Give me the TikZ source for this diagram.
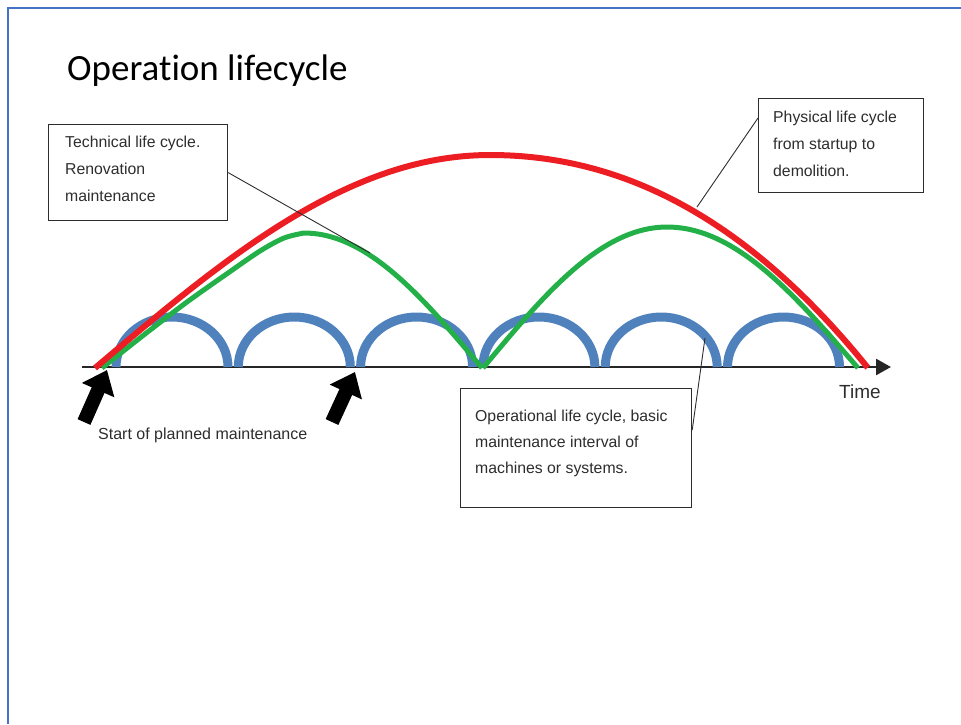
\documentclass[tikz,border=0pt]{standalone}
\usepackage{fontspec}
\setmainfont{Liberation Sans}
\newfontfamily\titlefont[Ligatures=NoCommon]{Carlito}
\usetikzlibrary{arrows.meta,calc}

\definecolor{framecol}{RGB}{68,114,196}
\definecolor{lifered}{RGB}{236,30,36}
\definecolor{lifegreen}{RGB}{36,176,72}
\definecolor{lifeblue}{RGB}{79,129,189}
\definecolor{inkgray}{RGB}{45,45,45}

\begin{document}
\begin{tikzpicture}[x=1pt,y=-1pt,
  frameline/.style={draw=framecol, line width=2.5pt},
  box/.style={draw=inkgray, line width=1.2pt, inner sep=0pt, anchor=north west},
  boxtext/.style={anchor=base west, inner sep=0pt, text=inkgray,
                  font=\fontsize{15.8}{27}\selectfont},
  leader/.style={draw=inkgray, line width=0.9pt},
  physcurve/.style={draw=lifered, line width=6pt},
  techcurve/.style={draw=lifegreen, line width=5pt},
  opcurve/.style={draw=lifeblue, line width=9pt},
  timeaxis/.style={draw=black!85, line width=2.6pt,
                   -{Triangle[length=15pt,width=16pt]}},
  startarrow/.style={draw=black, line width=14pt,
                     -{Triangle[length=22pt,width=34pt]}},
]
\useasboundingbox (0,0) rectangle (961,724);

% page frame (top and left edges)
\draw[frameline] (961,8) -- (8,8) -- (8,724);

% title
\node[anchor=base west, inner sep=0pt, font=\titlefont\fontsize{37}{44}\selectfont]
  (title) at (67,80) {Operation lifecycle};

% time axis
\coordinate (axisL) at (82,367);
\coordinate (axisR) at (891,367);
\draw[timeaxis] (axisL) -- (axisR);
\node[anchor=base west, inner sep=0pt, text=inkgray, font=\fontsize{19}{22}\selectfont]
  (time) at (839,398) {Time};

% operational life cycles (blue)
\foreach \k in {0,...,5}{
  \draw[opcurve] ({116+122.3*\k},367) arc[start angle=180, end angle=360,
                                          x radius=56, y radius=50];
}

% technical life cycles (green)
\draw[techcurve] plot[smooth] coordinates
    {(102,368) (145,334) (187,302) (228,273) (260,251) (284,238) (304,233)}
  -- plot[domain=0:1, samples=40]
    ({304+178*\x},{368-135*cos(90*\x)});
\draw[techcurve] plot[domain=0:1, samples=40]
    ({483+184*\x},{368-141*sin(90*\x)})
  -- plot[domain=0:1, samples=40]
    ({667+191*\x},{368-141*cos(90*\x)});

% physical life cycle (red)
\draw[physcurve] plot[domain=0:1, samples=60]
    ({95+395*\x},{368-213*sin(90*\x)})
  -- plot[domain=0:1, samples=60]
    ({490+378*\x},{368-213*(1-\x*\x*(0.8+0.2*\x))});

% start of planned maintenance
\coordinate (s1tail) at (84,422);
\coordinate (s1tip) at (107,370);
\coordinate (s2tail) at (332,422);
\coordinate (s2tip) at (355,372);
\draw[startarrow] (s1tail) -- (s1tip);
\draw[startarrow] (s2tail) -- (s2tip);
\node[anchor=base west, inner sep=0pt, text=inkgray, font=\fontsize{16}{19}\selectfont]
  (startlbl) at (98,439) {Start of planned maintenance};

% annotation boxes
\node[box, minimum width=179pt, minimum height=96pt] (tbox) at (48,124) {};
\node[boxtext] (ttext) at (65,147)
  {\vtop{\hbox{Technical life cycle.}\hbox{Renovation}\hbox{maintenance}}};

\node[box, minimum width=165pt, minimum height=94pt] (pbox) at (758,98) {};
\node[boxtext] (ptext) at (773,122)
  {\vtop{\hbox{Physical life cycle}\hbox{from startup to}\hbox{demolition.}}};

\node[box, minimum width=231pt, minimum height=119pt] (obox) at (460,388) {};
\node[boxtext] (otext) at (475,421)
  {\vtop{\fontsize{15.8}{26}\selectfont\hbox{Operational life cycle, basic}\hbox{maintenance interval of}\hbox{machines or systems.}}};

% leader lines
\coordinate (tend) at (370,253);
\coordinate (pend) at (697,207);
\coordinate (oend) at (705,338);
\draw[leader] (tbox.east) -- (tend);
\draw[leader] ($(pbox.north west)!0.21!(pbox.south west)$) -- (pend);
\draw[leader] ($(obox.north east)!0.35!(obox.south east)$) -- (oend);

\end{tikzpicture}
\end{document}
